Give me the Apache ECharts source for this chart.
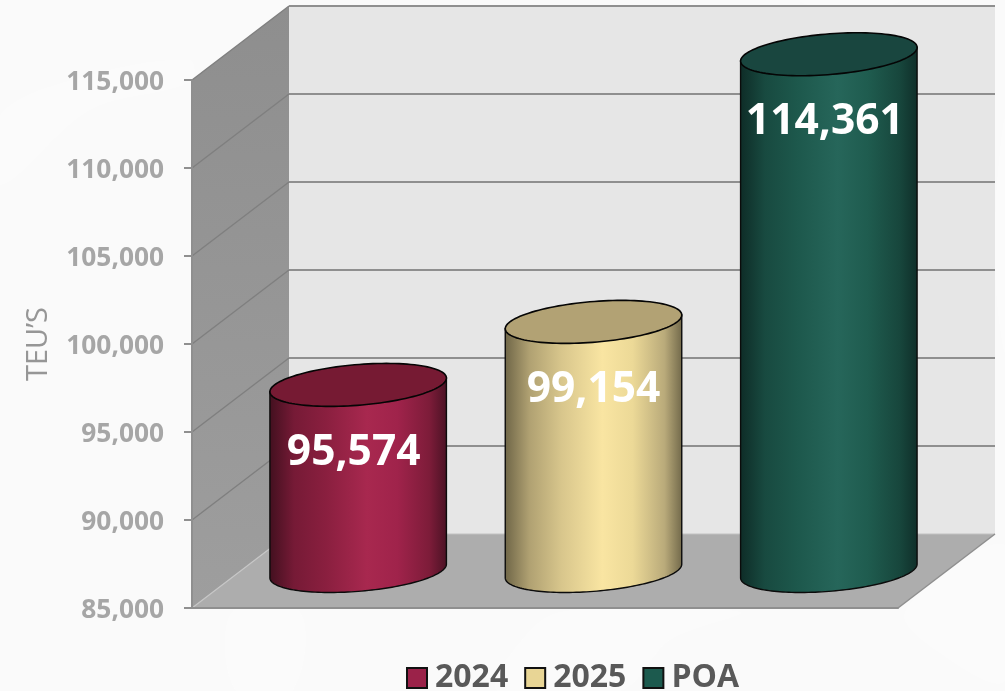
<!DOCTYPE html>
<html><head><meta charset="utf-8">
<style>html,body{margin:0;padding:0;background:#fafafa}#c{width:1005px;height:691px}</style>
<script src="https://cdn.jsdelivr.net/npm/echarts@6/dist/echarts.min.js"></script>
</head><body><div id="c"></div>
<script>
const categories = ['2024', '2025', 'POA'];
const seriesValues = [95574, 99154, 114361];
const gridTicks = [85000, 90000, 95000, 100000, 105000, 110000, 115000];
const axisName = 'TEU’S';

const palettes = [
  { swatch: '#9b2249', top: '#761a33', side: ['#42101f', '#761a36', '#8a1f3f', '#a8284f', '#a0234b', '#7d1c39', '#4a1224'] },
  { swatch: '#e8d595', top: '#b2a274', side: ['#6e6547', '#b0a172', '#d8c68c', '#f9e5a2', '#ecd997', '#b9aa7a', '#71684a'] },
  { swatch: '#1c5a4e', top: '#19463f', side: ['#0e2c27', '#184a40', '#1d584c', '#26665a', '#1f5c4f', '#17463c', '#0f2e29'] }
];
const labelShift = [-4.5, 0, -4];
const DEPTH_X = 97, DEPTH_Y = 74;
const sideStopAt = [0, 0.14, 0.32, 0.55, 0.72, 0.9, 1];
const GRAY = '#8f8f8f';

function renderWalls(params, api) {
  const cs = params.coordSys;
  const L = cs.x, R = cs.x + cs.width, B = cs.y + cs.height, T = cs.y;
  return {
    type: 'group',
    children: [
      { type: 'polygon', shape: { points: [[L + DEPTH_X, T - DEPTH_Y], [R + DEPTH_X, T - DEPTH_Y], [R + DEPTH_X, B - DEPTH_Y], [L + DEPTH_X, B - DEPTH_Y]] }, style: { fill: '#e6e6e6' } },
      { type: 'polygon', shape: { points: [[L, T], [L + DEPTH_X, T - DEPTH_Y], [L + DEPTH_X, B - DEPTH_Y], [L, B]] },
        style: { fill: { type: 'linear', x: 0, y: 0, x2: 0, y2: 1, colorStops: [{ offset: 0, color: '#8e8e8e' }, { offset: 1, color: '#9e9e9e' }] } } },
      { type: 'polygon', shape: { points: [[L, B], [R, B], [R + DEPTH_X, B - DEPTH_Y], [L + DEPTH_X, B - DEPTH_Y]] }, style: { fill: '#adadad' } },
      { type: 'line', shape: { x1: L, y1: B, x2: L + DEPTH_X, y2: B - DEPTH_Y }, style: { stroke: '#c6c6c6', lineWidth: 1.2 } },
      { type: 'line', shape: { x1: L + DEPTH_X, y1: B - DEPTH_Y, x2: R + DEPTH_X, y2: B - DEPTH_Y }, style: { stroke: '#c2c2c2', lineWidth: 1.2 } },
      { type: 'line', shape: { x1: R, y1: B, x2: R + DEPTH_X, y2: B - DEPTH_Y }, style: { stroke: GRAY, lineWidth: 1.5 } }
    ]
  };
}

function renderGridLine(params, api) {
  const cs = params.coordSys;
  const y = api.coord([0, api.value(1)])[1];
  const L = cs.x, R = cs.x + cs.width;
  const children = [];
  if (api.value(1) !== gridTicks[0]) {
    children.push({ type: 'line', shape: { x1: L, y1: y, x2: L + DEPTH_X, y2: y - DEPTH_Y }, style: { stroke: '#7f7f7f', lineWidth: 1.4 } });
    children.push({ type: 'line', shape: { x1: L + DEPTH_X, y1: y - DEPTH_Y, x2: R + DEPTH_X, y2: y - DEPTH_Y }, style: { stroke: GRAY, lineWidth: 2 } });
  }
  return { type: 'group', children };
}

function makeCylinder(idx) {
  return function (params, api) {
    const band = api.size([1, 0])[0];
    const halfW = band * 0.375;
    const uy = 21.5, ux = uy * DEPTH_X / DEPTH_Y;
    const ax = Math.sqrt(halfW * halfW - ux * ux);
    const t0 = Math.atan2(ux, ax);
    const top = api.coord([api.value(0), api.value(1)]);
    const base = api.coord([api.value(0), gridTicks[0]]);
    const cx = top[0] + DEPTH_X / 2;
    const ct = top[1] - DEPTH_Y / 2;
    const cb = base[1] - DEPTH_Y / 2;
    const pt = (cy, t) => [cx + ax * Math.cos(t) + ux * Math.sin(t), cy - uy * Math.sin(t)];
    const ell = [];
    for (let i = 0; i < 120; i++) ell.push(pt(ct, i / 120 * Math.PI * 2));
    const side = [pt(ct, t0)];
    for (let i = 0; i <= 80; i++) side.push(pt(cb, t0 - i / 80 * Math.PI));
    side.push(pt(ct, t0 - Math.PI));
    const pal = palettes[idx];
    return {
      type: 'group',
      children: [
        { type: 'polygon', shape: { points: side }, style: {
            fill: { type: 'linear', x: 0, y: 0, x2: 1, y2: 0, colorStops: pal.side.map((c, i) => ({ offset: sideStopAt[i], color: c })) },
            stroke: '#0b0b0b', lineWidth: 1.4 } },
        { type: 'polygon', shape: { points: ell }, style: { fill: pal.top, stroke: '#050505', lineWidth: 1.6 } },
        { type: 'text', x: cx + labelShift[idx], y: ct + 68, style: {
            text: api.value(1).toLocaleString('en-US'), fill: '#ffffff', align: 'center', verticalAlign: 'middle',
            font: 'bold 42.5px "Open Sans"' } }
      ]
    };
  };
}

const swoosh = (points) => ({ type: 'polygon', silent: true, z: -10, shape: { points, smooth: 0.35 }, style: { fill: '#ffffff', opacity: 0.3 } });

const option = {
  backgroundColor: '#fafafa',
  animation: false,
  graphic: { elements: [
    swoosh([[0, 115], [90, 75], [190, 60], [190, 82], [90, 110], [0, 185]]),
    swoosh([[1005, 120], [996, 200], [996, 290], [1005, 350]]),
    swoosh([[232, 612], [300, 612], [292, 691], [236, 691]]),
    swoosh([[560, 612], [510, 655], [498, 691], [620, 691], [670, 640], [740, 612]]),
    swoosh([[905, 612], [1005, 545], [1005, 680], [950, 660]]),
    swoosh([[800, 0], [850, 14], [900, 0]])
  ] },
  grid: { left: 192, right: 107, top: 80, bottom: 83 },
  legend: {
    left: 406, top: 662, padding: 0, itemWidth: 20, itemHeight: 20, itemGap: 16,
    data: categories.map((name, i) => ({ name, icon: 'rect', itemStyle: { color: palettes[i].swatch, borderColor: '#111', borderWidth: 2 } })),
    textStyle: { fontFamily: 'Open Sans', fontSize: 32, fontWeight: 'bold', color: '#595959', padding: [0, 0, 0, 3] }
  },
  xAxis: { type: 'category', data: categories, z: 5,
    axisLine: { lineStyle: { color: GRAY, width: 2 } }, axisTick: { show: false }, axisLabel: { show: false }, splitLine: { show: false } },
  yAxis: { type: 'value', min: 85000, max: 115000, interval: 5000, z: 5,
    name: axisName, nameLocation: 'middle', nameRotate: 90, nameGap: 139,
    nameTextStyle: { fontFamily: 'Open Sans', fontSize: 29, color: '#969696' },
    axisLine: { show: true, lineStyle: { color: GRAY, width: 2 } },
    axisTick: { show: true, length: 8, lineStyle: { color: GRAY, width: 2 } },
    axisLabel: { margin: 28, fontFamily: 'Open Sans', fontSize: 26.3, fontWeight: 'bold', color: '#a6a6a6',
      verticalAlign: 'top', lineHeight: 6,
      formatter: v => v.toLocaleString('en-US') },
    splitLine: { show: false } },
  series: [
    { name: 'walls', type: 'custom', z: 1, silent: true, renderItem: renderWalls, data: [[0, gridTicks[0]]], clip: false },
    { name: 'gridlines', type: 'custom', z: 1.5, silent: true, renderItem: renderGridLine, data: gridTicks.map(v => [0, v]), clip: false }
  ].concat(categories.map((name, i) => ({
    name, type: 'custom', z: 3, renderItem: makeCylinder(i), clip: false,
    itemStyle: { color: palettes[i].swatch },
    data: [[i, seriesValues[i]]]
  })))
};
const chart = echarts.init(document.getElementById('c'), null, { renderer: 'canvas' });
chart.setOption(option);
</script></body></html>
